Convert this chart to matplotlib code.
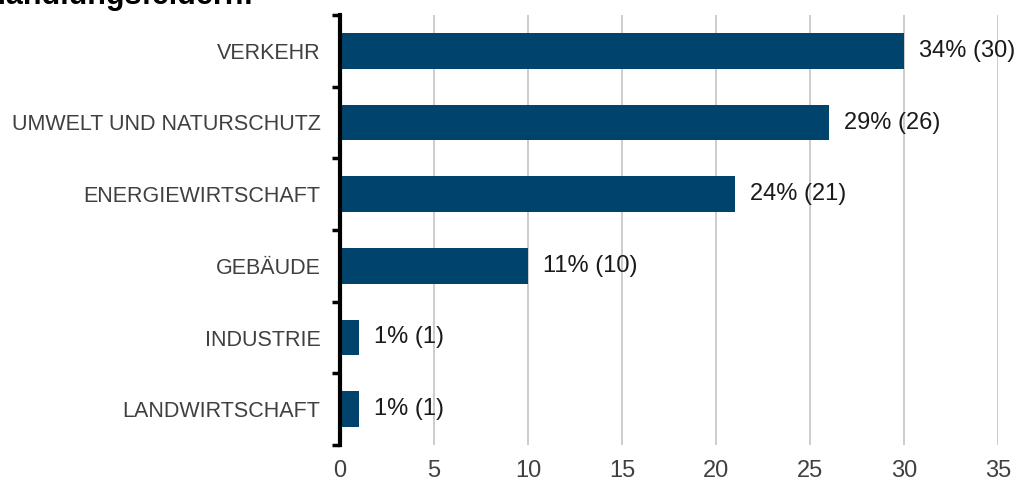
import matplotlib
matplotlib.use("Agg")
import matplotlib.pyplot as plt
import numpy as np

plt.rcParams['font.family'] = ['Liberation Sans', 'DejaVu Sans']

categories = ["VERKEHR", "UMWELT UND NATURSCHUTZ", "ENERGIEWIRTSCHAFT",
              "GEBÄUDE", "INDUSTRIE", "LANDWIRTSCHAFT"]
counts = [30, 26, 21, 10, 1, 1]
percents = [34, 29, 24, 11, 1, 1]
xticks = [0, 5, 10, 15, 20, 25, 30, 35]
title = "Handlungsfeldern:"

W, H = 1018, 483
fig = plt.figure(figsize=(W / 100, H / 100), dpi=100)
ax = fig.add_axes([340 / W, 1 - 445 / H, (998 - 340) / W, (445 - 15) / H])

y = np.arange(len(categories))
ax.barh(y, counts, height=0.5, color="#00446E", zorder=3)
ax.set_ylim(len(categories) - 0.5, -0.5)
ax.set_xlim(0, 35)

for yi, c, p in zip(y, counts, percents):
    ax.annotate(f"{p}% ({c})", xy=(c, yi), xytext=(15, 0), textcoords="offset pixels",
                va="center", ha="left", fontsize=17, color="#1a1a1a", zorder=4)

ax.set_xticks(xticks)
ax.set_xticklabels([str(t) for t in xticks], fontsize=17, color="#404040")
ax.tick_params(axis="x", length=0, pad=11)
ax.xaxis.grid(True, color="#c4c4c4", linewidth=1.2, zorder=0)

ax.set_yticks(y)
ax.set_yticklabels(categories, fontsize=15.5, color="#404040")
ax.tick_params(axis="y", which="major", length=0, pad=14)
ax.set_yticks(np.arange(-0.5, len(categories), 1.0), minor=True)
ax.tick_params(axis="y", which="minor", length=6, width=2.5, color="black")

for s in ["top", "right", "bottom"]:
    ax.spines[s].set_visible(False)
ax.spines["left"].set_linewidth(3)
ax.spines["left"].set_color("black")
ax.spines["left"].set_zorder(5)

fig.text(-16 / W, 1 - 4 / H, title, fontsize=22, fontweight="bold",
         color="black", ha="left", va="baseline")

fig.savefig("out.png", dpi=100)
